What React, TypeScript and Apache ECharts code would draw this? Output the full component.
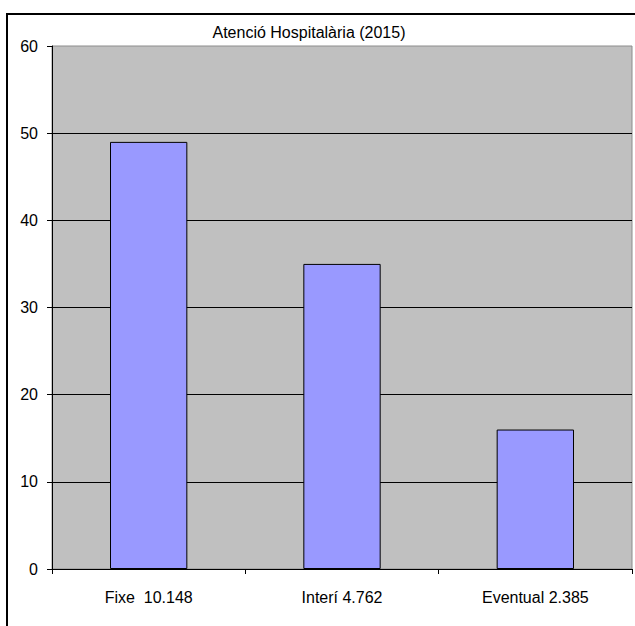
import React, { useEffect, useRef } from "react";
import * as echarts from "echarts";

const titleText = "Atenció Hospitalària (2015)";
const categories = ["Fixe  10.148", "Interí 4.762", "Eventual 2.385"];
const values = [49, 35, 16];
const yMin = 0;
const yMax = 60;
const yStep = 10;

export default function App() {
  const ref = useRef<HTMLDivElement>(null);
  useEffect(() => {
    if (!ref.current) return;
    const chart = echarts.init(ref.current, undefined, { renderer: "svg" });
    const font = "'Liberation Sans', Arial, sans-serif";
    chart.setOption({
      animation: false,
      backgroundColor: "#ffffff",
      textStyle: { fontFamily: font },
      title: {
        text: titleText,
        left: 304,
        top: 18,
        textAlign: "center",
        textStyle: { fontSize: 16, fontWeight: "normal", color: "#000", fontFamily: font, lineHeight: 18 },
      },
      graphic: [
        {
          type: "rect",
          shape: { x: 7, y: 14, width: 1000, height: 1000 },
          style: { fill: "none", stroke: "#000", lineWidth: 2 },
          silent: true,
        },
      ],
      grid: {
        left: 52,
        top: 46,
        right: 3,
        bottom: 57,
        show: true,
        backgroundColor: "#C0C0C0",
        borderColor: "#8c8c8c",
        borderWidth: 1,
        outerBoundsMode: "none",
        containLabel: false,
      },
      xAxis: {
        type: "category",
        data: categories,
        axisLine: { show: true, lineStyle: { color: "#000", width: 1 } },
        axisTick: { show: true, length: 5, lineStyle: { color: "#000" } },
        axisLabel: { fontSize: 16, color: "#000", margin: 20, fontFamily: font },
        splitLine: { show: false },
      },
      yAxis: {
        type: "value",
        min: yMin,
        max: yMax,
        interval: yStep,
        axisLine: { show: true, lineStyle: { color: "#000", width: 1 } },
        axisTick: { show: true, length: 5, lineStyle: { color: "#000" } },
        axisLabel: { fontSize: 16, color: "#000", margin: 14, fontFamily: font },
        splitLine: { show: true, showMaxLine: false, showMinLine: false, lineStyle: { color: "#000", width: 1 } },
      },
      series: [
        {
          type: "bar",
          data: values,
          barWidth: "40%",
          itemStyle: { color: "#9999FF", borderColor: "#000", borderWidth: 1 },
        },
      ],
    });
    return () => chart.dispose();
  }, []);
  return (
    <div
      ref={ref}
      style={{ position: "fixed", left: 0, top: 0, width: 635, height: 626 }}
    />
  );
}
